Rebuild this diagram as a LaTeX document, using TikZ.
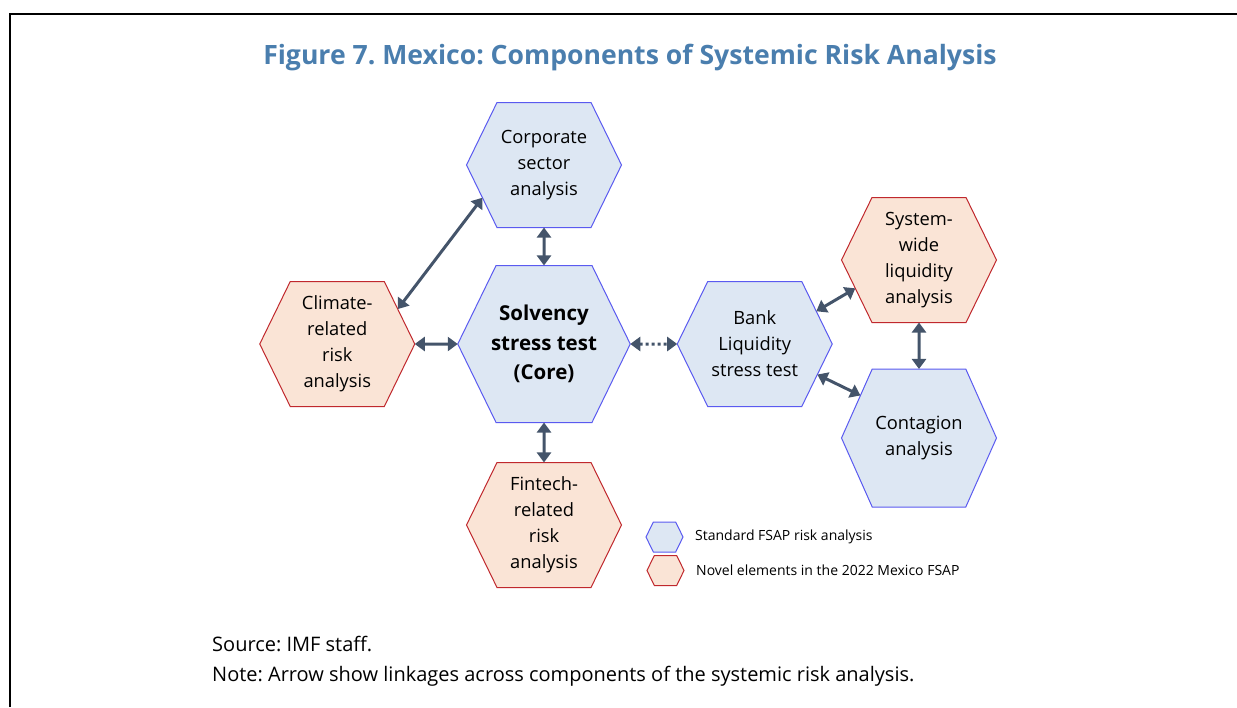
\documentclass[tikz,border=0pt]{standalone}
\usepackage{fontspec}
\setmainfont{Open Sans}
\usepackage{tikz}
\usetikzlibrary{arrows.meta,positioning,shapes.symbols}
\definecolor{Ink}{HTML}{44546A}
\definecolor{Heading}{HTML}{4A7EAE}
\definecolor{StdLine}{HTML}{5A5AF0}
\definecolor{StdFill}{HTML}{DDE7F3}
\definecolor{NovLine}{HTML}{C0282D}
\definecolor{NovFill}{HTML}{FAE4D6}
\frenchspacing

\begin{document}
\begin{tikzpicture}[
  x=1pt,y=-1pt,
  hexa/.style={signal,signal to=east and west,signal pointer angle=128,outer sep=0pt,inner sep=0pt,align=center,minimum width=155pt,minimum height=125pt,line width=1pt,font=\fontsize{18.3}{26}\selectfont,execute at begin node={\rule{0pt}{20pt}}},
  std/.style={hexa,draw=StdLine,fill=StdFill},
  novel/.style={hexa,draw=NovLine,fill=NovFill},
  core/.style={minimum width=170pt,minimum height=157pt,inner xsep=-5pt,font=\fontsize{20.5}{29.5}\selectfont\bfseries,execute at begin node={\rule{0pt}{21pt}}},
  key/.style={minimum width=37pt,minimum height=30pt},
  keytext/.style={inner sep=0pt,anchor=west,font=\fontsize{14}{17}\selectfont},
  note/.style={inner sep=0pt,anchor=base west,font=\fontsize{20}{24}\selectfont},
  link/.style={{Triangle[length=10pt,width=14pt]}-{Triangle[length=10pt,width=14pt]},line width=3pt,draw=Ink},
  dotlink/.style={link,dash pattern=on 3pt off 3pt}
]
\useasboundingbox (0,0) rectangle (1237,707);
\draw[line width=2.6pt] (10,707) -- (10,14) -- (1237,14);
\node[anchor=base,text=Heading,font=\fontsize{26.6}{30}\selectfont\bfseries] (title) at (630,64) {Figure 7. Mexico: Components of Systemic Risk Analysis};

\node[std,core] (solv) at (544,344) {Solvency\\stress test\\(Core)};
\node[std,above=38pt of solv] (corp) {Corporate\\sector\\analysis};
\node[novel,below=40pt of solv] (fintech) {Fintech-\\related\\risk\\analysis};
\node[novel,left=43pt of solv] (climate) {Climate-\\related\\risk\\analysis};
\node[std,right=47pt of solv] (bank) {Bank\\Liquidity\\stress test};
\node[novel] (syswide) at (919,260) {System-\\wide\\liquidity\\analysis};
\node[std,minimum height=138pt,signal pointer angle=132] (contagion) at (919,438) {Contagion\\analysis};

\draw[link] (corp) -- (solv);
\draw[link] (solv) -- (fintech);
\draw[link] (climate) -- (solv);
\draw[link] (climate.30) -- (corp.208);
\draw[dotlink] (solv) -- (bank);
\draw[link] (bank.28) -- (syswide.204);
\draw[link] (bank.-26) -- (contagion.144);
\draw[link] (syswide) -- (contagion);

\node[std,key] (keystd) at (664.5,537) {};
\node[novel,key] (keynov) at (665.5,570.5) {};
\node[keytext,right=12pt of keystd] (keystdtxt) {Standard FSAP risk analysis};
\node[keytext,right=12pt of keynov] (keynovtxt) {Novel elements in the 2022 Mexico FSAP};

\node[note] (source) at (212,651) {Source: IMF staff.};
\node[note] (remark) at (212,681) {Note: Arrow show linkages across components of the systemic risk analysis.};
\end{tikzpicture}
\end{document}
